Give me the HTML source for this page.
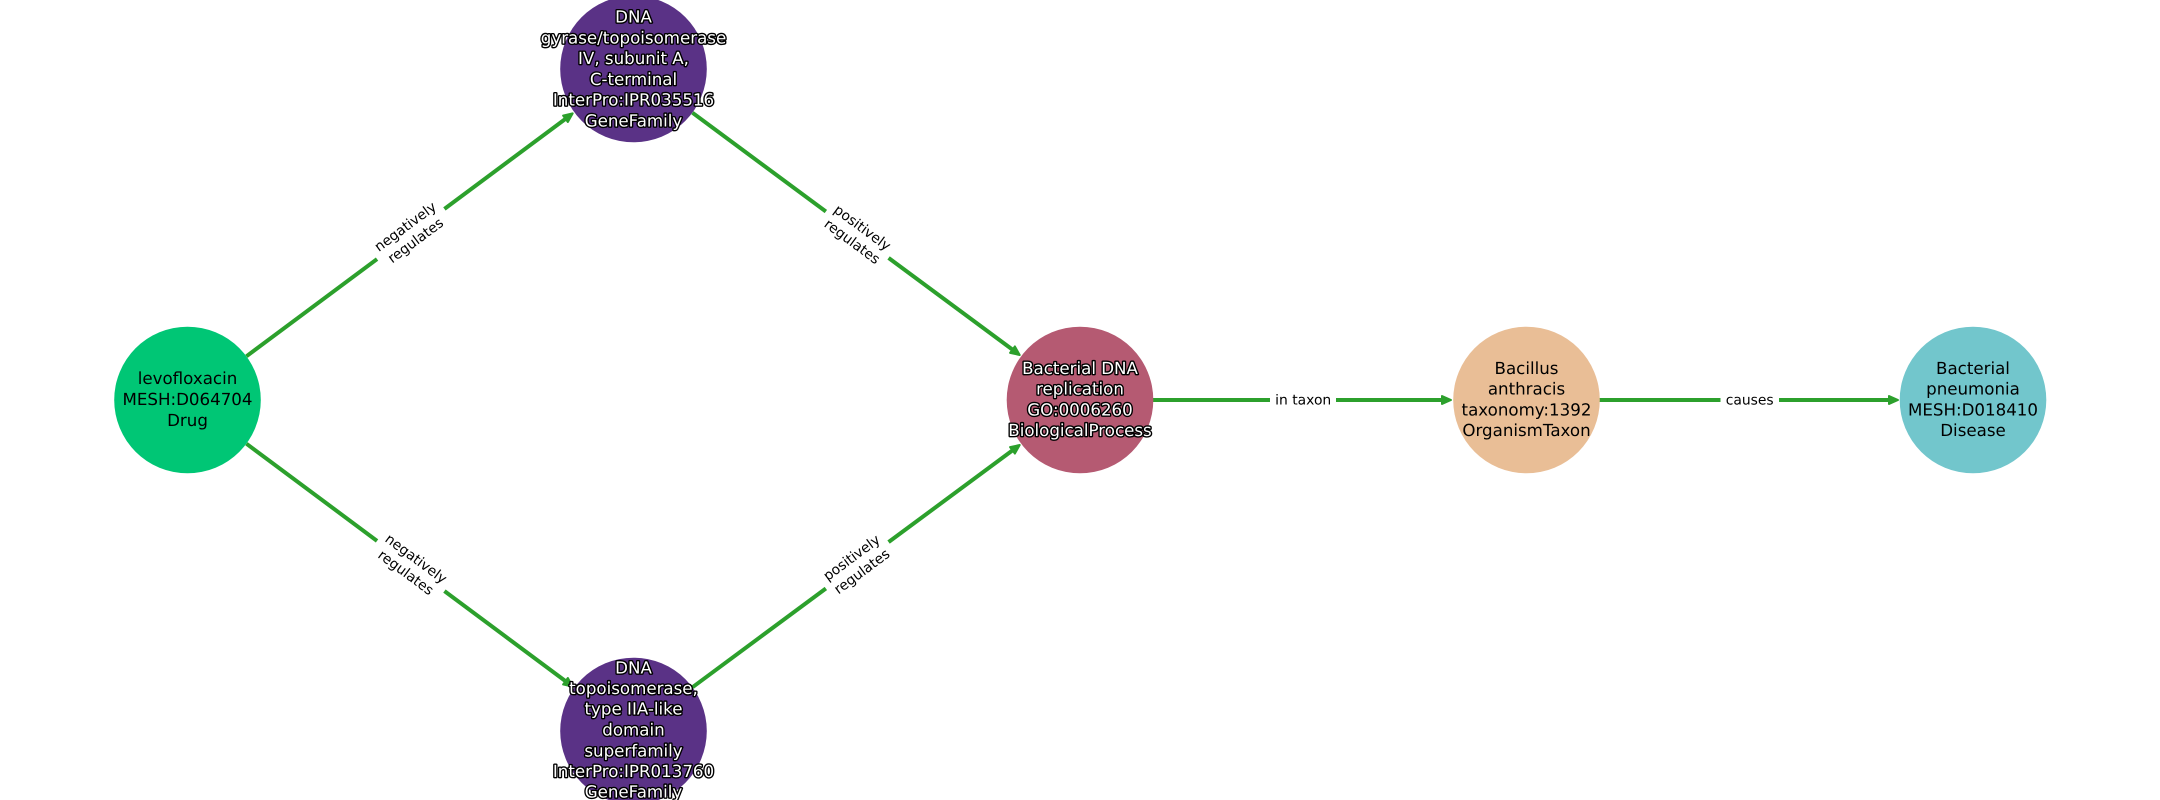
<!DOCTYPE html>
<html><head><meta charset="utf-8"><style>
html,body{margin:0;padding:0;background:#fff;width:2160px;height:800px;overflow:hidden}
svg{display:block}
text{font-family:"DejaVu Sans","Liberation Sans",sans-serif;text-anchor:middle;text-rendering:geometricPrecision}
.n{font-size:16.67px;fill:#000}
.o{font-size:16.67px;fill:#fff;stroke:#000;stroke-width:2.8px;paint-order:stroke;stroke-linejoin:round}
.e{font-size:13.89px;fill:#000}
.l{stroke:#2ca02c;stroke-width:4;fill:none}
.h{fill:#2ca02c;stroke:#2ca02c;stroke-width:2;stroke-linejoin:round}
</style></head><body>
<svg width="2160" height="800" viewBox="0 0 2160 800" xmlns="http://www.w3.org/2000/svg">
<rect width="2160" height="800" fill="#fff"/>
<line class="l" x1="246.4" y1="356.3" x2="566" y2="118.5"/>
<polygon class="h" points="-1,0 -10,-4 -10,4" transform="translate(573.5,112.8) rotate(-36.6)"/>
<line class="l" x1="246.4" y1="443.7" x2="566" y2="681.5"/>
<polygon class="h" points="-1,0 -10,-4 -10,4" transform="translate(573.5,687.2) rotate(36.6)"/>
<line class="l" x1="692.4" y1="112.7" x2="1013" y2="350"/>
<polygon class="h" points="-1,0 -10,-4 -10,4" transform="translate(1020.5,355.6) rotate(36.6)"/>
<line class="l" x1="692.4" y1="687.3" x2="1013" y2="450"/>
<polygon class="h" points="-1,0 -10,-4 -10,4" transform="translate(1020.5,444.4) rotate(-36.6)"/>
<line class="l" x1="1150" y1="400" x2="1444" y2="400"/>
<polygon class="h" points="-1,0 -10,-4 -10,4" transform="translate(1452,400)"/>
<line class="l" x1="1597" y1="400" x2="1891" y2="400"/>
<polygon class="h" points="-1,0 -10,-4 -10,4" transform="translate(1899,400)"/>

<circle cx="187.5" cy="400" r="73.3" fill="#00c675"/>
<circle cx="633.5" cy="69" r="73.3" fill="#5a3286"/>
<circle cx="633.5" cy="731" r="73.3" fill="#5a3286"/>
<circle cx="1080" cy="400" r="73.3" fill="#b55a72"/>
<circle cx="1526.5" cy="400" r="73.3" fill="#e9be96"/>
<circle cx="1973" cy="400" r="73.3" fill="#72c6cc"/>

<text class="n" x="187.5" y="384">levofloxacin</text><text class="n" x="187.5" y="405">MESH:D064704</text><text class="n" x="187.5" y="426">Drug</text>

<text class="o" x="633.5" y="22.7">DNA</text>
<text class="o" x="633.5" y="43.4">gyrase/topoisomerase</text>
<text class="o" x="633.5" y="64">IV, subunit A,</text>
<text class="o" x="633.5" y="85">C-terminal</text>
<text class="o" x="633.5" y="105.7">InterPro:IPR035516</text>
<text class="o" x="633.5" y="126.4">GeneFamily</text>

<text class="o" x="633.5" y="673.4">DNA</text>
<text class="o" x="633.5" y="694">topoisomerase,</text>
<text class="o" x="633.5" y="714.7">type IIA-like</text>
<text class="o" x="633.5" y="735.6">domain</text>
<text class="o" x="633.5" y="756.3">superfamily</text>
<text class="o" x="633.5" y="777">InterPro:IPR013760</text>
<text class="o" x="633.5" y="797.7">GeneFamily</text>

<text class="o" x="1080" y="374">Bacterial DNA</text>
<text class="o" x="1080" y="394.7">replication</text>
<text class="o" x="1080" y="415.5">GO:0006260</text>
<text class="o" x="1080" y="436">BiologicalProcess</text>

<text class="n" x="1526.5" y="374">Bacillus</text>
<text class="n" x="1526.5" y="394.7">anthracis</text>
<text class="n" x="1526.5" y="415.5">taxonomy:1392</text>
<text class="n" x="1526.5" y="436">OrganismTaxon</text>

<text class="n" x="1973" y="374">Bacterial</text>
<text class="n" x="1973" y="394.7">pneumonia</text>
<text class="n" x="1973" y="415.5">MESH:D018410</text>
<text class="n" x="1973" y="436">Disease</text>

<g transform="translate(410.7,234) rotate(-36.6)"><rect x="-42" y="-18" width="84" height="36" fill="#fff"/><text class="e" y="-4.4">negatively</text><text class="e" y="12.8">regulates</text></g>
<g transform="translate(410.7,566) rotate(36.6)"><rect x="-42" y="-18" width="84" height="36" fill="#fff"/><text class="e" y="-4.4">negatively</text><text class="e" y="12.8">regulates</text></g>
<g transform="translate(857,235) rotate(36.6)"><rect x="-39" y="-18" width="78" height="36" fill="#fff"/><text class="e" y="-4.4">positively</text><text class="e" y="12.8">regulates</text></g>
<g transform="translate(857,565) rotate(-36.6)"><rect x="-39" y="-18" width="78" height="36" fill="#fff"/><text class="e" y="-4.4">positively</text><text class="e" y="12.8">regulates</text></g>

<rect x="1270" y="390" width="66" height="20" fill="#fff"/>
<text class="e" x="1303.2" y="404.4">in taxon</text>
<rect x="1720.5" y="390" width="58.5" height="20" fill="#fff"/>
<text class="e" x="1749.7" y="404.4">causes</text>
</svg>
</body></html>
